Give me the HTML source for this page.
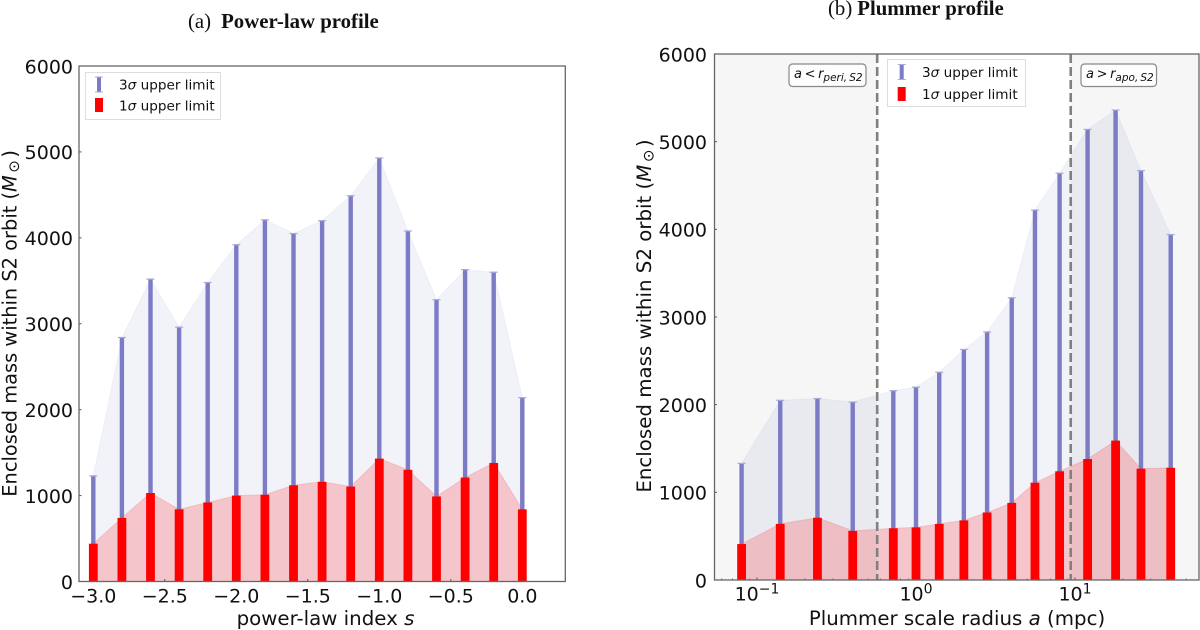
<!DOCTYPE html>
<html lang="en">
<head>
<meta charset="utf-8">
<title>Enclosed mass upper limits within S2 orbit</title>
<style>
html,body{margin:0;padding:0;background:#fff;}
body{width:1200px;height:630px;overflow:hidden;}
svg{display:block;filter:blur(0.35px);}
text{font-family:"DejaVu Sans",sans-serif;fill:#111;}
.serif{font-family:"Liberation Serif",serif;}
.it{font-style:italic;}
</style>
</head>
<body>
<svg id="chart" xmlns="http://www.w3.org/2000/svg" width="1200" height="630" viewBox="0 0 1200 630">
  <text class="serif" x="188" y="28" font-size="20.8">(a)<tspan dx="10" font-weight="bold">Power-law profile</tspan></text>
  <text class="serif" x="828" y="15" font-size="20.8">(b)<tspan dx="5" font-weight="bold">Plummer profile</tspan></text>

  <g id="panelA"></g>
  <g id="panelB"></g>

  <text x="325.5" y="625" font-size="19.8" text-anchor="middle">power-law index <tspan class="it">s</tspan></text>
  <text x="957" y="625" font-size="19.8" text-anchor="middle">Plummer scale radius <tspan class="it">a</tspan> (mpc)</text>
  <text transform="translate(16.5,323.4) rotate(-90)" font-size="19.4" text-anchor="middle">Enclosed mass within S2 orbit (<tspan class="it">M</tspan><tspan font-size="15" dx="2.5" dy="2.5">⊙</tspan><tspan dx="2.5" dy="-2.5">)</tspan></text>
  <text transform="translate(651,316) rotate(-90)" font-size="19.8" text-anchor="middle">Enclosed mass within S2 orbit (<tspan class="it">M</tspan><tspan font-size="15" dx="2.5" dy="2.5">⊙</tspan><tspan dx="2.5" dy="-2.5">)</tspan></text>

  <g>
    <rect x="85.5" y="72.5" width="135" height="47" fill="#fff" fill-opacity="0.9" stroke="#ddd" stroke-width="1"/>
    <rect x="97" y="77" width="4" height="15" fill="#7b7bc6"/>
    <rect x="95" y="76.5" width="8" height="1" fill="#a9a9da"/>
    <rect x="95" y="91.5" width="8" height="1" fill="#a9a9da"/>
    <rect x="95" y="98" width="8" height="14" fill="#ff0000"/>
    <text x="119" y="89.5" font-size="13.6">3<tspan class="it">σ</tspan> upper limit</text>
    <text x="119" y="110.5" font-size="13.6">1<tspan class="it">σ</tspan> upper limit</text>
  </g>
  <g>
    <rect x="887.5" y="59.5" width="138" height="47" fill="#fff" stroke="#ddd" stroke-width="1"/>
    <rect x="899.7" y="64.5" width="4" height="15" fill="#7b7bc6"/>
    <rect x="897.7" y="64" width="8" height="1" fill="#a9a9da"/>
    <rect x="897.7" y="79" width="8" height="1" fill="#a9a9da"/>
    <rect x="897.7" y="87" width="8" height="14" fill="#ff0000"/>
    <text x="922" y="77" font-size="13.6">3<tspan class="it">σ</tspan> upper limit</text>
    <text x="922" y="99" font-size="13.6">1<tspan class="it">σ</tspan> upper limit</text>
  </g>

  <g>
    <rect x="789" y="64" width="77" height="22.5" rx="3.5" fill="#fff" fill-opacity="0.85" stroke="#888" stroke-width="1.2"/>
    <text x="794" y="78" font-size="13"><tspan class="it">a</tspan>&#8201;&lt;&#8201;<tspan class="it">r</tspan><tspan class="it" font-size="10.5" dy="3">peri,&#8201;S2</tspan></text>
  </g>
  <g>
    <rect x="1081" y="64" width="75.5" height="22.5" rx="3.5" fill="#fff" fill-opacity="0.85" stroke="#888" stroke-width="1.2"/>
    <text x="1086" y="78" font-size="13"><tspan class="it">a</tspan>&#8201;&gt;&#8201;<tspan class="it">r</tspan><tspan class="it" font-size="10.5" dy="3">apo,&#8201;S2</tspan></text>
  </g>
</svg>
<script>
// Panel (a): power-law profile
var powerIndex = [-3.0, -2.8, -2.6, -2.4, -2.2, -2.0, -1.8, -1.6, -1.4, -1.2, -1.0, -0.8, -0.6, -0.4, -0.2, 0.0];
var powerSigma3 = [1230, 2840, 3520, 2960, 3480, 3920, 4210, 4050, 4200, 4490, 4930, 4080, 3280, 3630, 3600, 2140];
var powerSigma1 = [440, 740, 1030, 840, 920, 1000, 1010, 1120, 1160, 1105, 1430, 1300, 990, 1210, 1380, 840];
var powerXTicks = [-3.0, -2.5, -2.0, -1.5, -1.0, -0.5, 0.0];
var powerXTickLabels = ['\u22123.0', '\u22122.5', '\u22122.0', '\u22121.5', '\u22121.0', '\u22120.5', '0.0'];

// Panel (b): Plummer profile
var plummerRadius = [0.08, 0.14, 0.24, 0.4, 0.72, 1, 1.4, 2, 2.8, 4, 5.6, 8, 12, 18, 26, 40];
var plummerSigma3 = [1330, 2050, 2070, 2030, 2160, 2200, 2370, 2630, 2830, 3220, 4220, 4640, 5140, 5360, 4670, 3940];
var plummerSigma1 = [410, 640, 710, 560, 590, 600, 640, 680, 770, 880, 1110, 1240, 1380, 1590, 1270, 1280];
var plummerDecades = [0.1, 1, 10];
var plummerDecadeExponents = ['\u22121', '0', '1'];
var plummerMinorTicks = [0.06, 0.07, 0.08, 0.09, 0.2, 0.3, 0.4, 0.5, 0.6, 0.7, 0.8, 0.9, 2, 3, 4, 5, 6, 7, 8, 9, 20, 30, 40, 50];
var orbitPericentre = 0.57;
var orbitApocentre = 9.4;

// Shared y axis
var yTicks = [0, 1000, 2000, 3000, 4000, 5000, 6000];

var NS = 'http://www.w3.org/2000/svg';
function mk(parent, tag, attrs, txt) {
  var el = document.createElementNS(NS, tag);
  for (var k in attrs) el.setAttribute(k, attrs[k]);
  if (txt !== undefined) el.textContent = txt;
  parent.appendChild(el);
  return el;
}

// Axis functions
function xA(v) { return 522.3 + 143 * v; }
function yA(v) { return 581.5 - v * (515.5 / 6000); }
function xB(v) { return 916 + 159 * Math.log10(v); }
function yB(v) { return 580 - v * (526 / 6000); }

function areaPoints(xs, vals, xf, yf) {
  var pts = [xf(xs[0]).toFixed(1) + ',' + yf(0).toFixed(1)];
  for (var i = 0; i < xs.length; i++) pts.push(xf(xs[i]).toFixed(1) + ',' + yf(vals[i]).toFixed(1));
  pts.push(xf(xs[xs.length - 1]).toFixed(1) + ',' + yf(0).toFixed(1));
  return pts.join(' ');
}

function drawSeries(g, xs, s3, s1, xf, yf, prefix) {
  var a3 = mk(g, 'polygon', {points: areaPoints(xs, s3, xf, yf), fill: 'rgba(31,31,160,0.06)', stroke: 'rgba(31,31,160,0.04)', 'stroke-width': 1});
  
  
  var a1 = mk(g, 'polygon', {points: areaPoints(xs, s1, xf, yf), fill: 'rgba(255,0,0,0.18)', stroke: 'rgba(255,0,0,0.14)', 'stroke-width': 1});
  
  
  for (var i = 0; i < xs.length; i++) {
    var cx = xf(xs[i]);
    var bar3 = mk(g, 'rect', {x: cx - 2.2, y: yf(s3[i]), width: 4.4, height: yf(0) - yf(s3[i]), fill: '#7b7bc6'});
    
    
    var cap = mk(g, 'rect', {x: cx - 4, y: yf(s3[i]) - 0.6, width: 8, height: 1.2, fill: '#a9a9da'});
    
    
    var bar1 = mk(g, 'rect', {x: cx - 4.4, y: yf(s1[i]), width: 8.8, height: yf(0) - yf(s1[i]), fill: '#ff0000'});
    
    
  }
}

function drawYAxis(g, yf, left, labelX, prefix) {
  yTicks.forEach(function (t) {
    var tk = mk(g, 'line', {x1: left, x2: left + 2.5, y1: yf(t), y2: yf(t), stroke: '#555', 'stroke-width': 1});
    
    
    var lb = mk(g, 'text', {x: labelX, y: yf(t) + 7.3, 'font-size': 19, 'text-anchor': 'end'}, String(t));
    
    
  });
}

function drawFrame(g, x0, y0, x1, y1, prefix) {
  var fr = mk(g, 'rect', {x: x0, y: y0, width: x1 - x0, height: y1 - y0, fill: 'none', stroke: '#666', 'stroke-width': 1.3});
  
  
}

// ---- Panel A
var gA = document.getElementById('panelA');
drawSeries(gA, powerIndex, powerSigma3, powerSigma1, xA, yA, 'power-law');
drawYAxis(gA, yA, 79, 73, 'power-law');
powerXTicks.forEach(function (t, i) {
  var tk = mk(gA, 'line', {x1: xA(t), x2: xA(t), y1: yA(0), y2: yA(0) - 2.5, stroke: '#555', 'stroke-width': 1});
  
  
  var lb = mk(gA, 'text', {x: xA(t), y: 602.5, 'font-size': 19, 'text-anchor': 'middle'}, powerXTickLabels[i]);
  
  
});
drawFrame(gA, 79, yA(6000), 565.3, yA(0), 'power-law');

// ---- Panel B
var gB = document.getElementById('panelB');
var bL = 714.5, bR = 1199;
var shadeL = mk(gB, 'rect', {x: bL, y: yB(6000), width: xB(orbitPericentre) - bL, height: yB(0) - yB(6000), fill: '#f6f6f6'});


var shadeR = mk(gB, 'rect', {x: xB(orbitApocentre), y: yB(6000), width: bR - xB(orbitApocentre), height: yB(0) - yB(6000), fill: '#f6f6f6'});


drawSeries(gB, plummerRadius, plummerSigma3, plummerSigma1, xB, yB, 'plummer');
[orbitPericentre, orbitApocentre].forEach(function (v) {
  var dl = mk(gB, 'line', {x1: xB(v), x2: xB(v), y1: yB(6000), y2: yB(0), stroke: '#808080', 'stroke-width': 2.6, 'stroke-dasharray': '9 4'});
  
  
});
drawYAxis(gB, yB, bL, 707, 'plummer');
plummerMinorTicks.forEach(function (t) {
  var tk = mk(gB, 'line', {x1: xB(t), x2: xB(t), y1: yB(0), y2: yB(0) - 1.5, stroke: '#555', 'stroke-width': 0.8});
  
  
});
plummerDecades.forEach(function (t, i) {
  var tk = mk(gB, 'line', {x1: xB(t), x2: xB(t), y1: yB(0), y2: yB(0) - 2.5, stroke: '#555', 'stroke-width': 1});
  
  
  var lb = mk(gB, 'text', {x: xB(t), y: 600.5, 'font-size': 19, 'text-anchor': 'middle'}, '10');
  var sup = mk(lb, 'tspan', {'font-size': 14, dy: -7}, plummerDecadeExponents[i]);
  
  
  
  
});
drawFrame(gB, bL, yB(6000), bR, yB(0), 'plummer');
</script>
</body>
</html>
